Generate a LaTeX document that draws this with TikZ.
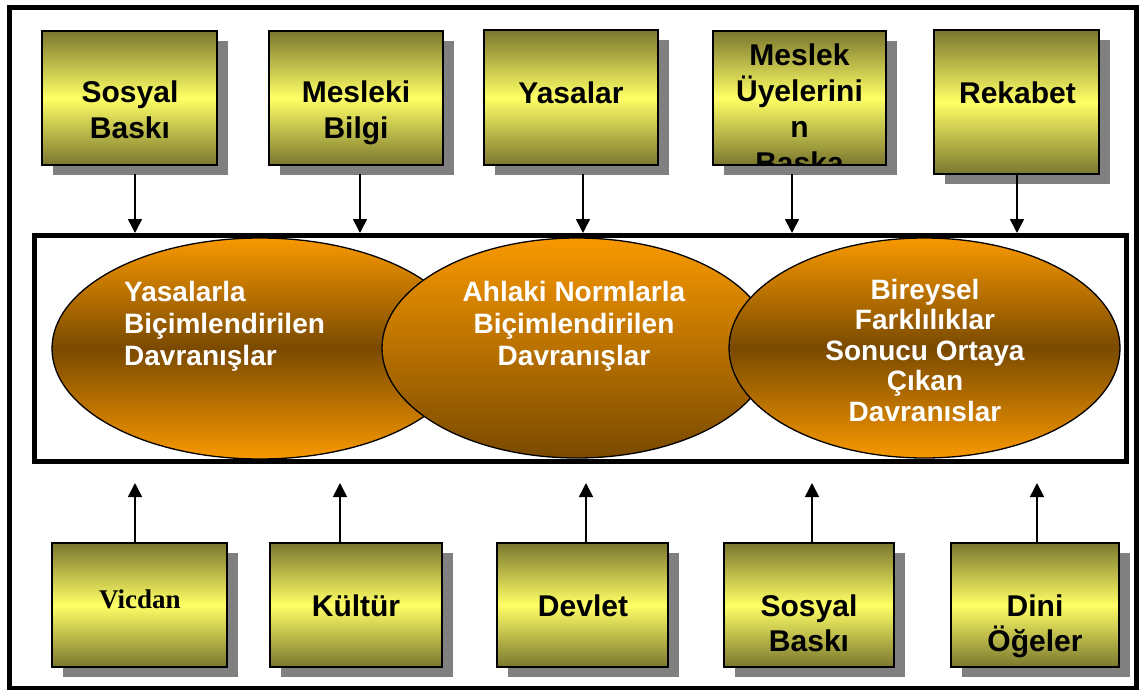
\documentclass[tikz,border=0pt]{standalone}
\usepackage{fontspec}
\setmainfont{Liberation Sans}
\newfontfamily\timesfont{Liberation Serif}
\usetikzlibrary{shapes.geometric,arrows.meta}
\definecolor{olive1}{RGB}{122,119,46}
\definecolor{yel1}{RGB}{255,255,102}
\definecolor{org1}{RGB}{248,152,0}
\definecolor{brn1}{RGB}{122,74,0}
\definecolor{shgray}{RGB}{128,128,128}
\newcommand{\stackc}[2]{\vtop{\baselineskip=#1\relax\lineskiplimit=-1000pt\lineskip=0pt\halign{\hfil##\hfil\cr#2\crcr}}}
\newcommand{\stackl}[2]{\vtop{\baselineskip=#1\relax\lineskiplimit=-1000pt\lineskip=0pt\halign{##\hfil\cr#2\crcr}}}
% name, cx, cy, w, h
\newcommand{\mkbox}[5]{%
  \fill[shgray] ({#2-#4/2+10.5},{#3-#5/2+10}) rectangle ({#2+#4/2+10.5},{#3+#5/2+10});
  \node[box, minimum width=#4pt, minimum height=#5pt] (#1) at (#2,#3) {};}
\begin{document}
\begin{tikzpicture}[x=1pt,y=-1pt,
  box/.style={draw=black, line width=1.4pt, top color=olive1, bottom color=olive1, middle color=yel1, inner sep=0pt},
  boxtext/.style={inner sep=0pt, anchor=base, font=\fontsize{30}{36}\selectfont\bfseries},
  ell/.style={ellipse, draw=black, line width=1.3pt, inner sep=0pt},
  ellsym/.style={ell, top color=org1, bottom color=org1, middle color=brn1},
  elltext/.style={inner sep=0pt, text=white, font=\fontsize{28}{32}\selectfont\bfseries},
  arr/.style={line width=1.6pt, -{Triangle[length=14pt,width=14pt]}}]
\useasboundingbox (0,0) rectangle (1144,691);
\fill[white] (0,0) rectangle (1144,691);
% outer frame
\draw[line width=4.5pt] (9.5,7.5) rectangle (1136.5,688);
% inner frame
\node[draw=black, line width=5pt, minimum width=1092pt, minimum height=225.5pt, inner sep=0pt] (frame) at (580.25,348.25) {};
% top boxes
\mkbox{t1}{129.5}{98}{175}{134}
\mkbox{t2}{356}{98}{174}{134}
\mkbox{t3}{571}{97.5}{174}{135}
\mkbox{t4}{799.5}{98}{173}{134}
\mkbox{t5}{1016.5}{102}{165}{144}
\node[boxtext] (t1t) at (130,102) {\stackc{36pt}{Sosyal\cr Baskı}};
\node[boxtext] (t2t) at (356,102) {\stackc{36pt}{Mesleki\cr Bilgi}};
\node[boxtext] (t3t) at (571,103) {Yasalar};
\begin{scope}
  \clip (t4.south west) rectangle (t4.north east);
  \node[boxtext] (t4t) at (799.5,65) {\stackc{36pt}{Meslek\cr Üyelerini\cr n\cr Başka}};
\end{scope}
\node[boxtext] (t5t) at (1017.5,103) {Rekabet};
% top arrows
\coordinate (ta1) at (135,174);
\coordinate (ta2) at (360,174);
\coordinate (ta3) at (583,174);
\coordinate (ta4) at (792,174);
\coordinate (ta5) at (1017,174);
\foreach \a in {ta1,ta2,ta3,ta4,ta5} \draw[arr] (\a) -- (\a |- frame.north);
% ellipses
\node[ellsym, minimum width=416pt, minimum height=221pt] (e1) at (260,348.5) {};
\node[ell, top color=org1, bottom color=brn1, minimum width=390pt, minimum height=220pt] (e2) at (577,348) {};
\node[ellsym, minimum width=391pt, minimum height=220pt] (e3) at (924.5,348) {};
\node[elltext, anchor=base west] (e1t) at (124,301) {\stackl{32pt}{Yasalarla\cr Biçimlendirilen\cr Davranışlar}};
\node[elltext, anchor=base] (e2t) at (574,301) {\stackc{32pt}{Ahlaki Normlarla\cr Biçimlendirilen\cr Davranışlar}};
\node[elltext, anchor=base] (e3t) at (925,299) {\stackc{30.5pt}{Bireysel\cr Farklılıklar\cr Sonucu Ortaya\cr Çıkan\cr Davranıslar}};
% bottom boxes
\mkbox{b1}{139.5}{605}{175}{124}
\mkbox{b2}{356}{605}{172}{124}
\mkbox{b3}{582.5}{605}{171}{124}
\mkbox{b4}{809}{605}{170}{124}
\mkbox{b5}{1035}{605}{168}{124}
\node[inner sep=0pt, anchor=base, font=\timesfont\fontsize{27}{32}\selectfont\bfseries] (b1t) at (140,608) {Vicdan};
\node[boxtext] (b2t) at (356,616) {Kültür};
\node[boxtext] (b3t) at (583,616) {Devlet};
\node[boxtext] (b4t) at (809,616) {\stackc{35pt}{Sosyal\cr Baskı}};
\node[boxtext] (b5t) at (1035,616) {\stackc{35pt}{Dini\cr Öğeler}};
% bottom arrows
\coordinate (ba1) at (135,483);
\coordinate (ba2) at (340,483);
\coordinate (ba3) at (586,483);
\coordinate (ba4) at (812,483);
\coordinate (ba5) at (1037,483);
\draw[arr] (ba1 |- b1.north) -- (ba1);
\draw[arr] (ba2 |- b2.north) -- (ba2);
\draw[arr] (ba3 |- b3.north) -- (ba3);
\draw[arr] (ba4 |- b4.north) -- (ba4);
\draw[arr] (ba5 |- b5.north) -- (ba5);
\end{tikzpicture}
\end{document}
